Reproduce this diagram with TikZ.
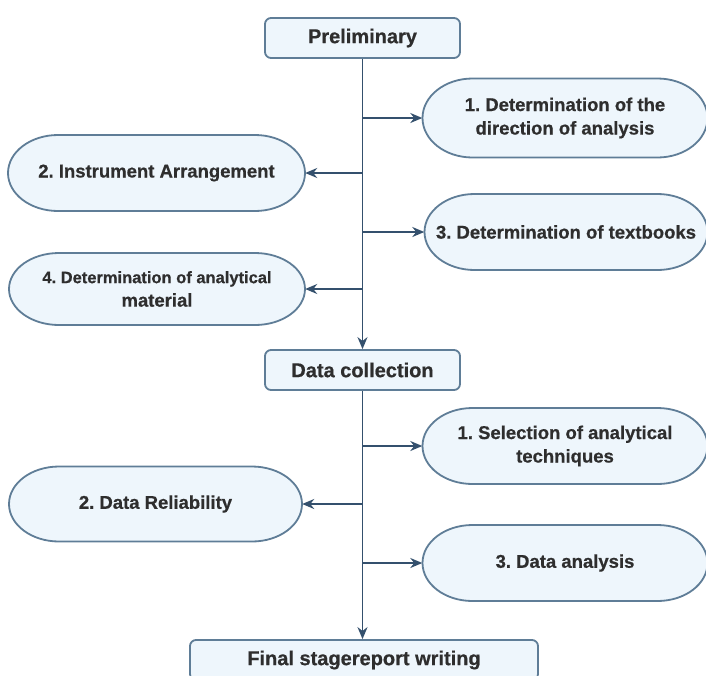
\documentclass[tikz,border=0pt]{standalone}
\usepackage{fontspec}
\setmainfont{Liberation Sans}[BoldFeatures={FakeBold=0.6}]
\usetikzlibrary{arrows.meta}
\definecolor{boxfill}{HTML}{EEF6FC}
\definecolor{boxline}{HTML}{5F7D97}
\definecolor{arrcol}{HTML}{34506D}
\definecolor{txt}{HTML}{2E2E2E}
\tikzset{
  stagebox/.style={draw=boxline, fill=boxfill, line width=1.8pt, rounded corners=6pt,
    minimum height=40pt, inner sep=0pt, text=txt,
    font=\bfseries\fontsize{20}{24}\selectfont},
  ovaltext/.style={inner sep=0pt, text=txt, align=center,
    font=\bfseries\fontsize{18.5}{23.5}\selectfont},
  ovalline/.style={draw=boxline, fill=boxfill, line width=1.8pt},
  arr/.style={draw=arrcol, line width=1.6pt, -{Stealth[length=12pt,width=10pt]}}
}
% \ovalnode{name}{cx}{cy}{half width}{half height}{end radius}{text}
\newcommand\ovalnode[7]{%
  \path[ovalline] (#2-#4+#6,#3-#5) -- (#2+#4-#6,#3-#5)
    arc[start angle=-90, end angle=90, x radius=#6, y radius=#5]
    -- (#2-#4+#6,#3+#5)
    arc[start angle=90, end angle=270, x radius=#6, y radius=#5] -- cycle;
  \node[ovaltext, minimum width=2*#4 pt, minimum height=2*#5 pt] (#1) at (#2,#3) {#7};
}
\begin{document}
\frenchspacing
\begin{tikzpicture}[x=1pt,y=-1pt]
\clip (0,0) rectangle (706,675);
\fill[white] (0,0) rectangle (706,675);
% stage boxes
\node[stagebox, minimum width=195pt] (P) at (362.5,38) {Preliminary};
\node[stagebox, minimum width=195pt] (D) at (362.5,370) {Data collection};
\node[stagebox, minimum width=348pt] (F) at (364,660) {Final stagereport writing};
% ovals of the preliminary stage
\ovalnode{E1}{565}{118}{142.5}{39.5}{50}{1. Determination of the\\direction of analysis}
\ovalnode{E2}{156.5}{173}{148.5}{38}{50}{2. Instrument Arrangement}
\ovalnode{E3}{566}{232}{141.5}{38}{50}{3. Determination of textbooks}
\ovalnode{E4}{157}{289}{148}{36}{50}{\fontsize{16.5}{19.5}\selectfont 4. Determination of analytical\\material}
% ovals of the data collection stage
\ovalnode{S1}{565}{446}{142.5}{38}{50}{1. Selection of analytical\\techniques}
\ovalnode{S2}{155.5}{504}{146.5}{37.5}{50}{2. Data Reliability}
\ovalnode{S3}{565}{563}{142.5}{38}{50}{3. Data analysis}
% trunk branch points
\coordinate (b1) at (362.5,118);
\coordinate (b2) at (362.5,173);
\coordinate (b3) at (362.5,232);
\coordinate (b4) at (362.5,289);
\coordinate (c1) at (362.5,446);
\coordinate (c2) at (362.5,504);
\coordinate (c3) at (362.5,563);
% trunk
\draw[arr] (P.south) -- (D.north);
\draw[arr] (D.south) -- (D.south |- F.north);
% branches
\draw[arr] (b1) -- (E1);
\draw[arr] (b2) -- (E2);
\draw[arr] (b3) -- (E3);
\draw[arr] (b4) -- (E4);
\draw[arr] (c1) -- (S1);
\draw[arr] (c2) -- (S2);
\draw[arr] (c3) -- (S3);
\end{tikzpicture}
\end{document}
